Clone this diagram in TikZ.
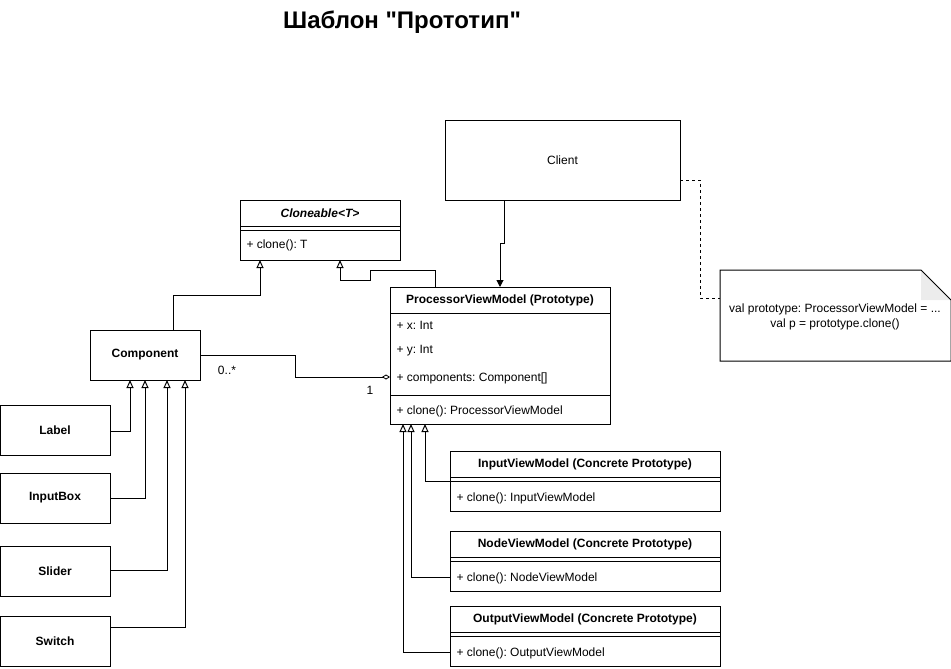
\documentclass[tikz,border=0pt]{standalone}
\usepackage{fontspec}
\setmainfont{Liberation Sans}[Ligatures=TeXOff]
\usetikzlibrary{arrows.meta,calc}
\frenchspacing
\begin{document}
\begin{tikzpicture}[x=1pt,y=-1pt,line width=1pt,
  box/.style={draw,anchor=north west,inner sep=0pt,outer sep=0pt},
  txt/.style={font=\fontsize{12}{14}\selectfont,inner sep=0pt},
  btxt/.style={font=\fontsize{12}{14}\selectfont\bfseries,inner sep=0pt},
  ltxt/.style={txt,anchor=west},
  inh/.style={-{Triangle[open,length=8pt,width=7pt,line width=1pt]}},
  assoc/.style={-{Triangle[length=7pt,width=7pt]}},
  aggr/.style={-{Diamond[open,length=8pt,width=5pt,line width=0.8pt]}}
]
\useasboundingbox (0,0) rectangle (951,669);

% title
\node[font=\fontsize{24}{28}\selectfont\bfseries,inner sep=0pt] (title) at (402,22) {Шаблон "Прототип"};

% Client
\node[box,minimum width=235pt,minimum height=80pt,font=\fontsize{12}{14}\selectfont] (client) at (445,120) {Client};

% Note
\node[anchor=north west,inner sep=0pt,minimum width=230pt,minimum height=90pt] (note) at (720,270) {};
\fill[gray!15] ($(note.north east)+(-30,0)$) -- ($(note.north east)+(0,30)$) -- ($(note.north east)+(-30,30)$) -- cycle;
\draw (note.north west) -- ($(note.north east)+(-30,0)$) -- ($(note.north east)+(0,30)$) -- (note.south east) -- (note.south west) -- cycle;
\node[txt,align=center] (notetext) at (835,316.5) {val prototype: ProcessorViewModel = ...\\[1pt]val p = prototype.clone()};

% Cloneable
\node[box,minimum width=160pt,minimum height=60pt] (clo) at (240,200) {};
\draw (240,226) -- (400,226);
\draw (240,230) -- (400,230);
\node[btxt,font=\fontsize{12}{14}\selectfont\bfseries\itshape] (clot) at (320,213) {Cloneable<T>};
\node[ltxt] (clom) at (246,245) {+ clone(): T};

% ProcessorViewModel
\node[box,minimum width=220pt,minimum height=137pt] (pvm) at (390,287) {};
\draw (390,313) -- (610,313);
\draw (390,395) -- (610,395);
\node[btxt] (pvmt) at (500,300) {ProcessorViewModel (Prototype)};
\node[ltxt] (pvmx) at (396,325) {+ x: Int};
\node[ltxt] (pvmy) at (396,351) {+ y: Int};
\node[ltxt] (pvmc) at (396,378) {+ components: Component[]};
\node[ltxt] (pvmm) at (396,411) {+ clone(): ProcessorViewModel};

% Concrete prototypes
\node[box,minimum width=270pt,minimum height=60pt] (ivm) at (450,451) {};
\draw (450,477) -- (720,477);
\draw (450,481) -- (720,481);
\node[btxt] (ivmt) at (585,464) {InputViewModel (Concrete Prototype)};
\node[ltxt] (ivmm) at (456,498) {+ clone(): InputViewModel};

\node[box,minimum width=270pt,minimum height=60pt] (nvm) at (450,531) {};
\draw (450,557) -- (720,557);
\draw (450,561) -- (720,561);
\node[btxt] (nvmt) at (585,544) {NodeViewModel (Concrete Prototype)};
\node[ltxt] (nvmm) at (456,578) {+ clone(): NodeViewModel};

\node[box,minimum width=270pt,minimum height=60pt] (ovm) at (450,606) {};
\draw (450,632) -- (720,632);
\draw (450,636) -- (720,636);
\node[btxt] (ovmt) at (585,619) {OutputViewModel (Concrete Prototype)};
\node[ltxt] (ovmm) at (456,653) {+ clone(): OutputViewModel};

% Component and subclasses
\node[box,minimum width=110pt,minimum height=50pt,font=\fontsize{12}{14}\selectfont\bfseries] (comp) at (90,330) {Component};
\node[box,minimum width=110pt,minimum height=50pt,font=\fontsize{12}{14}\selectfont\bfseries] (lab) at (0,405) {Label};
\node[box,minimum width=110pt,minimum height=50pt,font=\fontsize{12}{14}\selectfont\bfseries] (inb) at (0,473) {InputBox};
\node[box,minimum width=110pt,minimum height=50pt,font=\fontsize{12}{14}\selectfont\bfseries] (sli) at (0,546) {Slider};
\node[box,minimum width=110pt,minimum height=50pt,font=\fontsize{12}{14}\selectfont\bfseries] (swi) at (0,616) {Switch};

% inheritance to Component
\draw[inh] ($(lab.north east)+(0,26)$) -| ($(comp.south west)+(40,0)$);
\draw[inh] ($(inb.north east)+(0,25)$) -| ($(comp.south west)+(55,0)$);
\draw[inh] ($(sli.north east)+(0,24)$) -| ($(comp.south west)+(77,0)$);
\draw[inh] ($(swi.north east)+(0,11)$) -| ($(comp.south west)+(95,0)$);

% inheritance to Cloneable
\draw[inh] ($(comp.north west)+(83,0)$) -- ++(0,-35) -| ($(clo.south west)+(20,0)$);
\draw[inh] ($(pvm.north west)+(45,0)$) -- ++(0,-17) -- ++(-65,0) -- ++(0,10) -| ($(clo.south west)+(100,0)$);

% inheritance to PVM
\draw[inh] ($(ivm.north west)+(0,30)$) -| ($(pvm.south west)+(35,0)$);
\draw[inh] ($(nvm.north west)+(0,46)$) -| ($(pvm.south west)+(21,0)$);
\draw[inh] ($(ovm.north west)+(0,46)$) -| ($(pvm.south west)+(13,0)$);

% aggregation
\draw[aggr] (comp.east) -- ++(95,0) |- ($(pvm.north west)+(0,90)$);
\node[txt] (mult1) at (227,370) {0..*};
\node[txt] (mult2) at (370,390) {1};

% client association
\draw[assoc] ($(client.south west)+(59,0)$) -- ++(0,43) -- ++(-4,0) -- ($(pvm.north west)+(110,0)$);

% note link
\draw[dashed,dash pattern=on 3pt off 3pt] ($(client.south east)+(0,-20)$) -- ++(20,0) |- ($(note.north west)+(0,28)$);
\end{tikzpicture}
\end{document}
